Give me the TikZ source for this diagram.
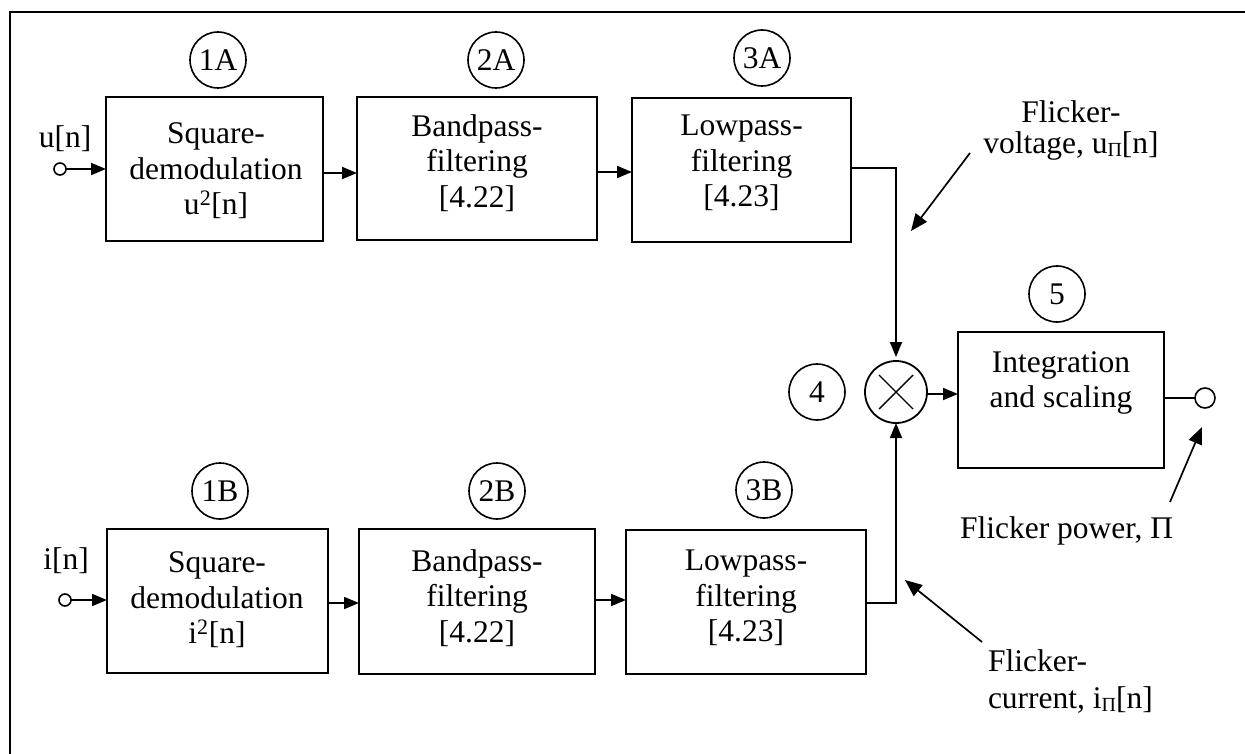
\documentclass[tikz,border=0pt]{standalone}
\usepackage{fontspec}
\setmainfont{Liberation Serif}
\usetikzlibrary{arrows.meta,calc}
% small lowered capital Pi used as an index
\newcommand{\flsub}{\raisebox{-3pt}{\fontsize{20}{20}\selectfont Π}}
\begin{document}
\begin{tikzpicture}[x=1pt,y=-1pt,
  every node/.style={font=\fontsize{31.5}{35.5}\selectfont, inner sep=0pt, outer sep=0pt},
  block/.style 2 args={draw, line width=2pt, rectangle, minimum width=#1, minimum height=#2},
  txt/.style={align=center},
  tag/.style={draw, circle, line width=1.6pt, minimum size=56pt},
  port/.style={draw, circle, line width=1.6pt, minimum size=#1},
  arr/.style={line width=1.8pt, -{Triangle[length=15pt,width=12pt]}},
  ann/.style={line width=1.7pt, -{Triangle[length=17pt,width=14pt]}},
  wire/.style={line width=1.8pt}]
\useasboundingbox (0,0) rectangle (1245,754);

% outer frame (top and left edges)
\draw[line width=2.3pt] (9.7,754) -- (9.7,12) -- (1245,12);

% ---- voltage path ----
\node[block={217pt}{144pt}] (b1a) at (214.5,169) {};
\node[txt] (t1a) at (216,171) {Square-\\demodulation\\u\textsuperscript{2}[n]};
\node[block={240pt}{143pt}] (b2a) at (477,168.5) {};
\node[txt] (t2a) at (477,163) {Bandpass-\\filtering\\{[4.22]}};
\node[block={219pt}{144pt}] (b3a) at (741.5,170) {};
\node[txt] (t3a) at (741.5,163) {Lowpass-\\filtering\\{[4.23]}};

\node[tag] (c1a) at (218,60) {1A};
\node[tag] (c2a) at (496,60) {2A};
\node[tag] (c3a) at (762,58) {3A};

\node[anchor=base] (un) at (65,148) {u[n]};
\node[port=12pt] (in1) at (60,169) {};

% ---- current path ----
\node[block={221pt}{144pt}] (b1b) at (217.5,601) {};
\node[txt] (t1b) at (217,600) {Square-\\demodulation\\i\textsuperscript{2}[n]};
\node[block={236pt}{145pt}] (b2b) at (477,601.5) {};
\node[txt] (t2b) at (477,598) {Bandpass-\\filtering\\{[4.22]}};
\node[block={240pt}{144pt}] (b3b) at (746,602) {};
\node[txt] (t3b) at (746,598) {Lowpass-\\filtering\\{[4.23]}};

\node[tag] (c1b) at (220,491) {1B};
\node[tag] (c2b) at (497,491) {2B};
\node[tag] (c3b) at (764,490) {3B};

\node[anchor=base] (in) at (66,569) {i[n]};
\node[port=12pt] (in2) at (65,600) {};

% ---- multiplier and integrator ----
\node[draw, circle, line width=1.8pt, minimum size=62pt] (mult) at (896,392) {};
\draw[line width=1.4pt] ($(mult.center)+(-17,-17)$) -- ($(mult.center)+(17,17)$);
\draw[line width=1.4pt] ($(mult.center)+(-17,17)$) -- ($(mult.center)+(17,-17)$);
\node[tag] (c4) at (817,392) {4};

\node[block={206pt}{136pt}] (b5) at (1061,400) {};
\node[txt] (t5) at (1061,383) {Integration\\and scaling};
\node[tag] (c5) at (1057,294) {5};
\node[port=20pt] (out) at (1205,398) {};

% ---- signal flow ----
\draw[arr] (in1.east) -- (in1 -| b1a.west);
\draw[arr] ($(b1a.east)+(0,4)$) coordinate (o1a) -- (o1a -| b2a.west);
\draw[arr] ($(b2a.east)+(0,3.5)$) coordinate (o2a) -- (o2a -| b3a.west);
\draw[arr, shorten >=4pt] ($(b3a.east)+(0,-2)$) -| (mult.north);

\draw[arr] (in2.east) -- (in2 -| b1b.west);
\draw[arr] ($(b1b.east)+(0,2)$) coordinate (o1b) -- (o1b -| b2b.west);
\draw[arr] ($(b2b.east)+(0,-1.5)$) coordinate (o2b) -- (o2b -| b3b.west);
\draw[arr] ($(b3b.east)+(0,1)$) -| (mult.south);

\draw[arr] ($(mult.east)+(0,2)$) coordinate (om) -- (om -| b5.west);
\draw[wire] ($(b5.east)+(0,-2)$) -- (out.west);

% ---- annotations ----
\node[align=center, font=\fontsize{31.5}{31}\selectfont] (lv) at (1071,130)
  {Flicker-\\voltage, u\flsub[n]};
\coordinate (lvs) at (970,153);
\coordinate (lvt) at (911,231);
\draw[ann] (lvs) -- (lvt);

\node[align=left, anchor=west, font=\fontsize{31.5}{37}\selectfont] (lc) at (988,681)
  {Flicker-\\current, i\flsub[n]};
\coordinate (lcs) at (982,642);
\coordinate (lct) at (905,580);
\draw[ann] (lcs) -- (lct);

\node[anchor=base west] (lp) at (960,538) {Flicker power, Π};
\coordinate (lps) at (1170,502);
\coordinate (lpt) at (1202,427);
\draw[ann] (lps) -- (lpt);
\end{tikzpicture}
\end{document}
